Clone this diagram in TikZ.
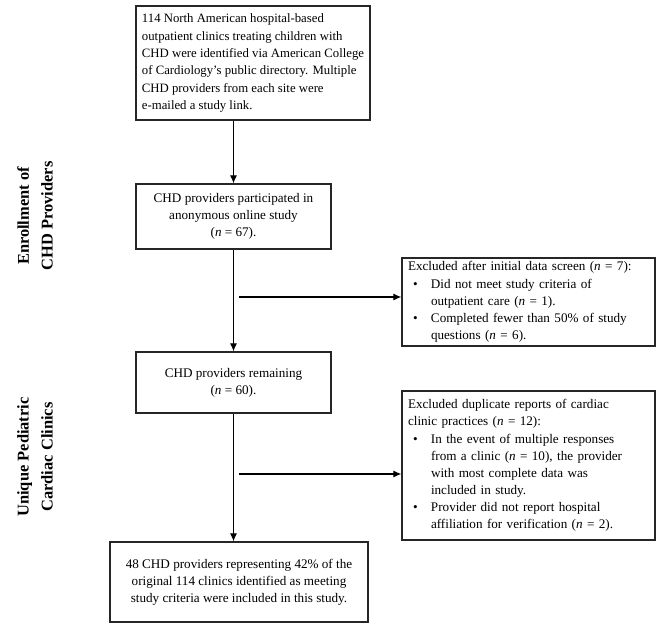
\documentclass[tikz,border=0pt]{standalone}
\usepackage{fontspec}
\setmainfont{Liberation Serif}
\usetikzlibrary{arrows.meta,positioning}
\newcommand{\bul}{\makebox[23bp][l]{\hspace{5bp}•}}
\newcommand{\ind}{\hspace*{23bp}}
\begin{document}
\begin{tikzpicture}[x=1bp,y=-1bp,
  box/.style={draw=black!85,line width=1.3bp,inner sep=0pt,font=\fontsize{13.2}{17.2}\selectfont},
  arr/.style={line width=1.1bp,-{Latex[length=8bp,width=7bp]}},
  side/.style={rotate=90,align=center,font=\fontsize{16.5}{24}\selectfont\bfseries}]
\useasboundingbox (0,0) rectangle (656,625);
\node[box,minimum width=234bp,minimum height=114bp,align=left,font=\fontsize{12.8}{17.4}\selectfont] (top) at (253,63)
 {114 North American hospital-based\\
  outpatient clinics treating children with\\
  CHD were identified via American College\\
  of Cardiology’s public directory. Multiple\\
  CHD providers from each site were\\
  e-mailed a study link.};
\node[box,minimum width=195bp,minimum height=65bp,align=center] (b2) at (233.5,216.5)
 {CHD providers participated in\\anonymous online study\\(\textit{n} = 67).};
\node[box,minimum width=195bp,minimum height=61bp,align=center] (b3) at (233.5,382.5)
 {CHD providers remaining\\(\textit{n} = 60).};
\node[box,minimum width=258bp,minimum height=80bp,align=center] (fin) at (239,582)
 {48 CHD providers representing 42\% of the\\original 114 clinics identified as meeting\\study criteria were included in this study.};
\node[box,minimum width=253bp,minimum height=88bp,text width=241bp,align=left] (ex1) at (528.5,302)
 {Excluded after initial data screen (\textit{n} = 7):\\
  \bul Did not meet study criteria of\\
  \ind outpatient care (\textit{n} = 1).\\
  \bul Completed fewer than 50\% of study\\
  \ind questions (\textit{n} = 6).};
\node[box,minimum width=253bp,minimum height=149bp,text width=241bp,align=left] (ex2) at (528.5,465.5)
 {Excluded duplicate reports of cardiac\\
  clinic practices (\textit{n} = 12):\\
  \bul In the event of multiple responses\\
  \ind from a clinic (\textit{n} = 10), the provider\\
  \ind with most complete data was\\
  \ind included in study.\\
  \bul Provider did not report hospital\\
  \ind affiliation for verification (\textit{n} = 2).};
\node[side] (l1) at (35,216) {Enrollment of\\CHD Providers};
\node[side] (l2) at (35,457) {Unique Pediatric\\Cardiac Clinics};
\coordinate (h1) at (239,297);
\coordinate (h2) at (239,474);
\draw[arr] (b2.north |- top.south) -- (b2.north);
\draw[arr] (b2.south) -- (b3.north);
\draw[arr] (b3.south) -- (b3.south |- fin.north);
\draw[arr] (h1) -- (h1 -| ex1.west);
\draw[arr] (h2) -- (h2 -| ex2.west);
\end{tikzpicture}
\end{document}
